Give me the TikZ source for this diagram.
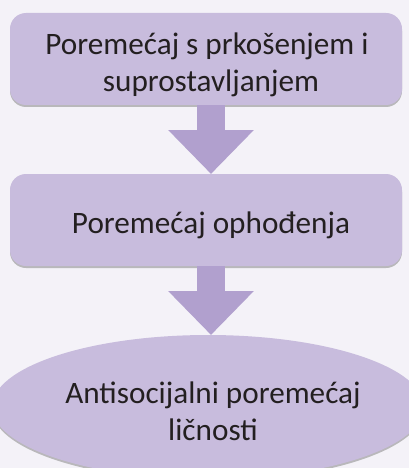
\documentclass[tikz,border=0pt]{standalone}
\usepackage{fontspec}
\setmainfont{Carlito}
\usetikzlibrary{shapes.geometric,arrows.meta,shadows}
\definecolor{bgc}{HTML}{F4F2F8}
\definecolor{boxc}{HTML}{C8BCDD}
\definecolor{arrc}{HTML}{B1A0CE}
\definecolor{txtc}{HTML}{231F20}
\newcommand\myln{\hspace*{10pt}}
\newcommand\mylt{\rule{0pt}{33pt}\hspace*{10pt}}
\newcommand\mylf{\rule{0pt}{33pt}\hspace*{2pt}}
\newcommand\myle{\rule{0pt}{30pt}\hspace*{10pt}}
\tikzset{
  x=1pt,y=1pt,
  stepbox/.style={draw=none, fill=boxc, rounded corners=16pt, minimum width=392pt, minimum height=92pt,
    align=center, text=txtc, font=\fontsize{31.2}{37}\selectfont,
    drop shadow={opacity=0.35, shadow xshift=0pt, shadow yshift=-2pt, fill=black!70}},
  endell/.style={ellipse, draw=none, fill=boxc, minimum width=396pt, minimum height=144pt, inner sep=0pt,
    align=center, text=txtc, font=\fontsize{31.2}{37}\selectfont,
    drop shadow={opacity=0.35, shadow xshift=0pt, shadow yshift=-2pt, fill=black!70}},
  flowarrow/.style={draw=arrc, line width=28pt, -{Triangle[width=83pt,length=44pt]}}
}
\begin{document}
\begin{tikzpicture}
\fill[bgc] (0,0) rectangle (409,-468);
\useasboundingbox (0,0) rectangle (409,-468);
\node[stepbox] (b1) at (206,-59) {\mylf Poremećaj s prkošenjem i\\\myln suprostavljanjem};
\node[stepbox] (b2) at (206,-220) {\mylt Poremećaj ophođenja};
\node[endell] (e) at (208,-407) {\myle Antisocijalni poremećaj\\\myln ličnosti};
\draw[flowarrow] (b1.south -| 211,0) -- (211,-174);
\draw[flowarrow] (b2.south -| 211,0) -- (211,-335);
\end{tikzpicture}
\end{document}
